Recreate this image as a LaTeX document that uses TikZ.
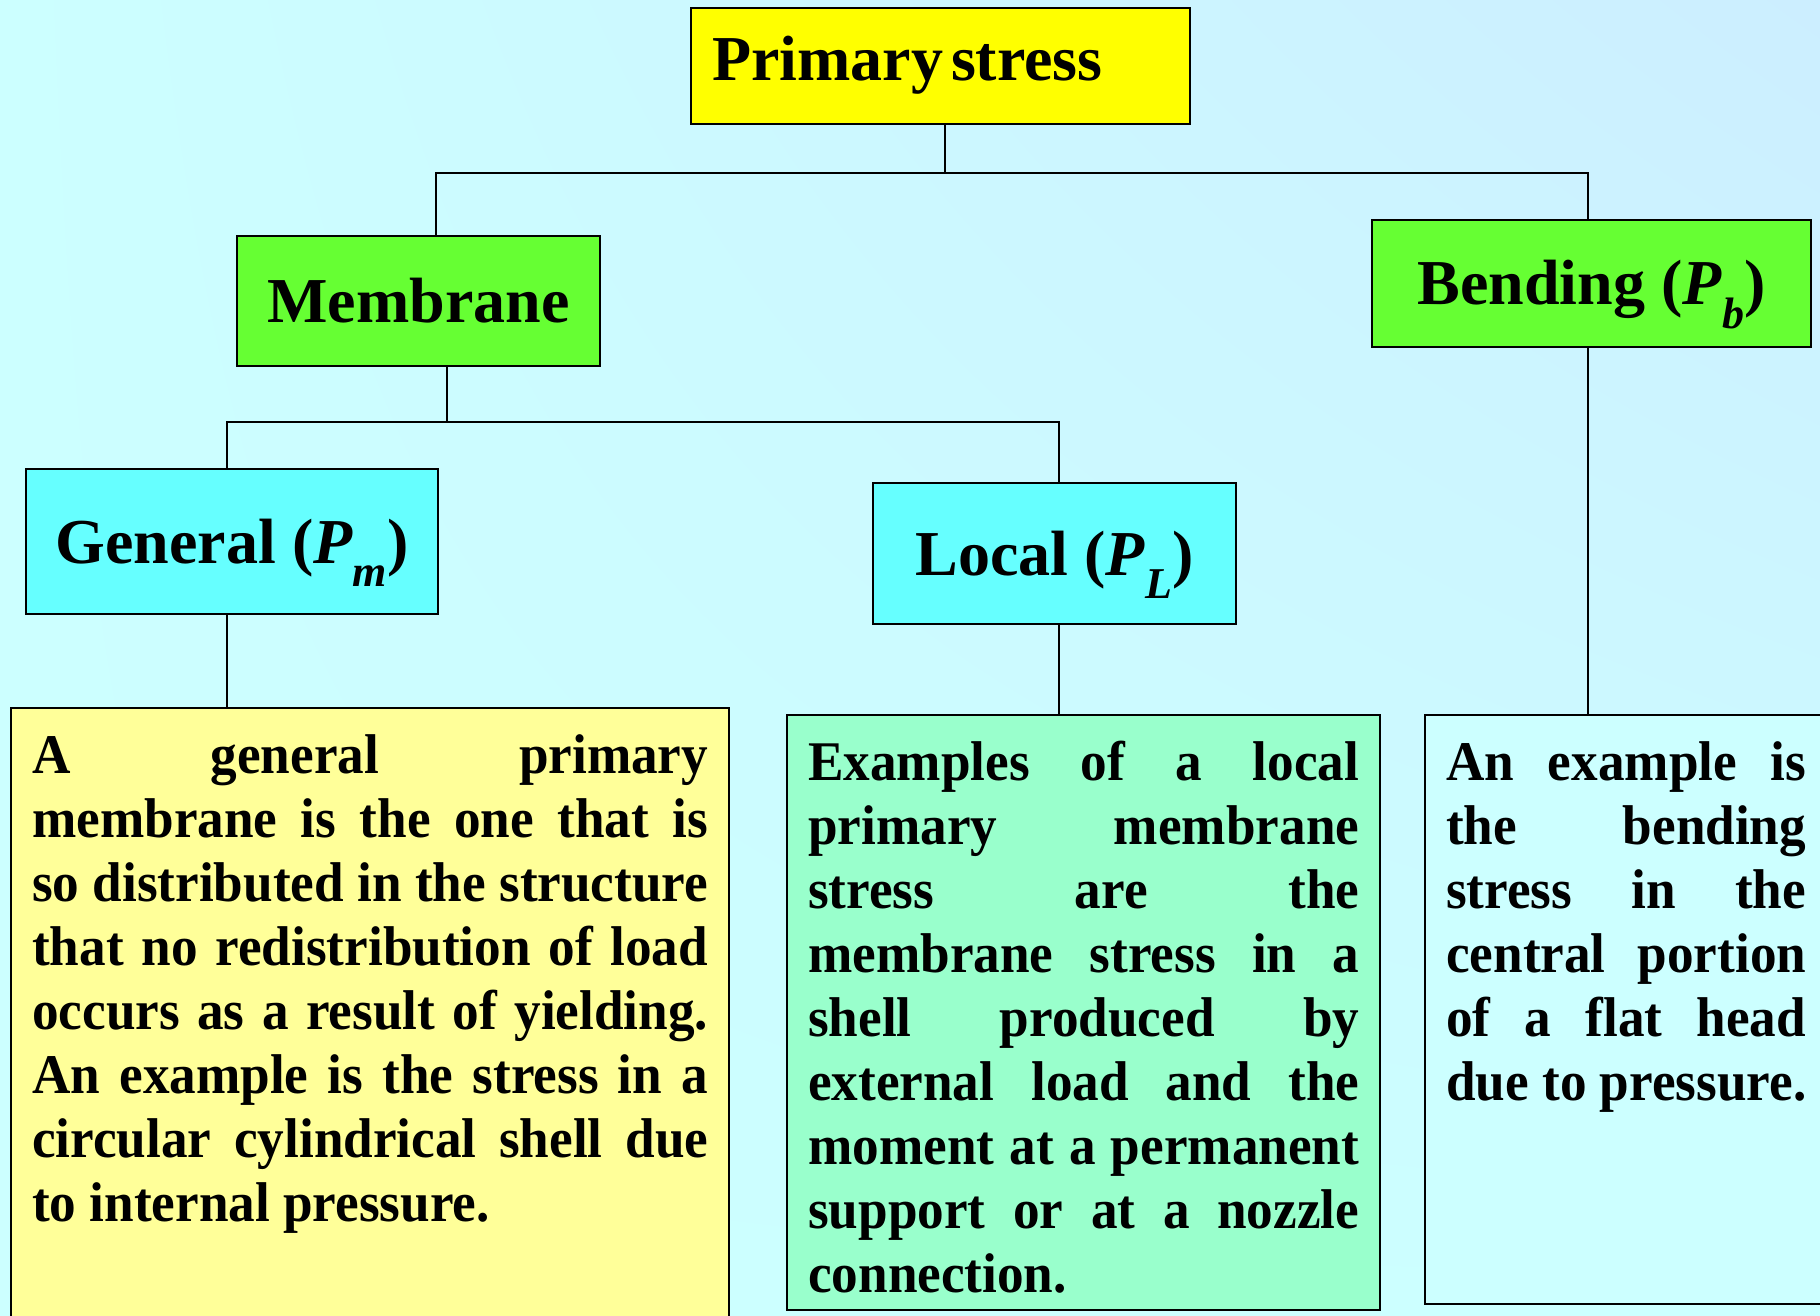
\documentclass[tikz,border=0pt]{standalone}
\usepackage{fontspec}
\setmainfont{Liberation Serif}
\newfontfamily\bodyfont[FakeStretch=0.95]{Liberation Serif}
\usepackage{tikz}
\usetikzlibrary{positioning,calc,shadings}

\definecolor{bgcyan}{HTML}{CCFFFF}
\definecolor{bgblue}{HTML}{CCEEFF}
\definecolor{topyellow}{HTML}{FFFF00}
\definecolor{midgreen}{HTML}{66FF33}
\definecolor{lowcyan}{HTML}{66FFFF}
\definecolor{paleyellow}{HTML}{FFFF99}
\definecolor{palegreen}{HTML}{99FFCC}

\newcommand{\psub}[1]{\textit{P}\raisebox{-0.36em}{\fontsize{22}{22}\selectfont\textit{#1}}}
\newcommand{\jline}[1]{\makebox[\linewidth][s]{\strut #1}\par}

\tikzset{
  headbox/.style={draw, line width=1.2pt, inner sep=0pt, text height=21.5pt, text depth=0pt,
    font=\fontsize{32}{38}\selectfont\bfseries},
  txtbox/.style={draw, line width=1.2pt, anchor=north west, inner xsep=10.5pt, inner ysep=10pt,
    font=\bodyfont\fontsize{28}{32}\selectfont\bfseries},
  link/.style={line width=1pt}
}

\begin{document}
\begin{tikzpicture}[x=0.5pt, y=-0.5pt]
    % background
    \shade[upper left=bgcyan, lower left=bgcyan, lower right=bgcyan, upper right=bgblue] (0,0) rectangle (1820,1316);
    \useasboundingbox (0,0) rectangle (1820,1316);

    % Primary stress
    \node[headbox, fill=topyellow, minimum height=58pt, text height=22pt, text depth=7pt, inner xsep=10.5pt, text width=228.5pt, align=left] (primary) at (940.5,66) {Primary\hspace{4pt}stress};

    % Membrane and Bending
    \node[headbox, fill=midgreen, minimum width=181.5pt, minimum height=65pt] (membrane) at (418.5,301) {Membrane};
    \node[headbox, fill=midgreen, minimum width=219.5pt, minimum height=63.5pt] (bending) at (1591.5,283.5) {Bending (\psub{b})};

    % General and Local
    \node[headbox, fill=lowcyan, minimum width=206pt, minimum height=72.5pt] (general) at (232,541.5) {General (\psub{m})};
    \node[headbox, fill=lowcyan, minimum width=181.5pt, minimum height=70.5pt] (local) at (1054.5,553.5) {Local (\psub{L})};

    % Text boxes
    \node[txtbox, fill=paleyellow] (gentext) at (10,707) {\parbox[t][296.5pt][t]{338pt}{%
      \jline{A general primary}
      \jline{membrane is the one that is}
      \jline{so distributed in the structure}
      \jline{that no redistribution of load}
      \jline{occurs as a result of yielding.}
      \jline{An example is the stress in a}
      \jline{circular cylindrical shell due}
      to internal pressure.}};
    \node[txtbox, fill=palegreen] (loctext) at (786,714) {\parbox[t][277.5pt][t]{275.5pt}{%
      \jline{Examples of a local}
      \jline{primary membrane}
      \jline{stress are the}
      \jline{membrane stress in a}
      \jline{shell produced by}
      \jline{external load and the}
      \jline{moment at a permanent}
      \jline{support or at a nozzle}
      connection.}};
    \node[txtbox, fill=bgcyan] (bendtext) at (1424,714) {\parbox[t][274.5pt][t]{180pt}{%
      \jline{An example is}
      \jline{the bending}
      \jline{stress in the}
      \jline{central portion}
      \jline{of a flat head}
      \mbox{due to pressure.}}};

    % Connectors
    \draw[link] ([xshift=2.25pt]primary.south) -- ++(0,48) coordinate (jtop);
    \draw[link] ([xshift=8.75pt]membrane.north) |- (jtop) -| ([xshift=-1.75pt]bending.north);
    \draw[link] ([xshift=14.25pt]membrane.south) -- ++(0,55) coordinate (jmid);
    \draw[link] ([xshift=-2.5pt]general.north) |- (jmid) -| ([xshift=2.25pt]local.north);
    \draw[link] ([xshift=-2.5pt]general.south) -- ([xshift=-2.5pt]general.south |- gentext.north);
    \draw[link] ([xshift=2.25pt]local.south) -- ([xshift=2.25pt]local.south |- loctext.north);
    \draw[link] ([xshift=-1.75pt]bending.south) -- ([xshift=-1.75pt]bending.south |- bendtext.north);
\end{tikzpicture}
\end{document}
